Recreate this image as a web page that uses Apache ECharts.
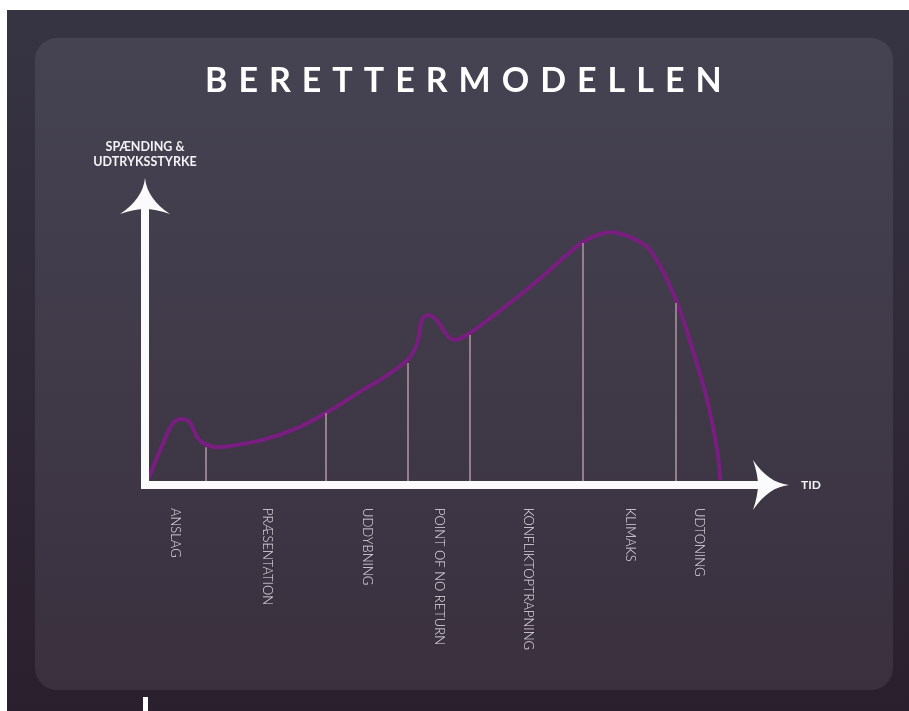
<!DOCTYPE html>
<html><head><meta charset="utf-8">
<script src="https://cdn.jsdelivr.net/npm/echarts@6/dist/echarts.min.js"></script>
<style>html,body{margin:0;padding:0;background:#fff}#c{width:909px;height:711px}</style>
</head><body><div id="c"></div>
<script>
// ---- data ----
const titleText = 'BERETTERMODELLEN';
const yAxisName = 'SPÆNDING &\nUDTRYKSSTYRKE';
const xAxisName = 'TID';
// Tension curve (time 0-100, tension 0-100)
const curveX = [0.3, 1.1, 2.9, 4.5, 5.9, 7.2, 8.3, 9.3, 11.5, 13.6, 18.8, 24.3, 28.9, 34.8, 37.5, 41.9, 43.5, 44.2, 45.2, 46.6, 48.2, 49.5, 51.9, 56.2, 61.5, 64.7, 70.0, 74.3, 77.5, 80.7, 84.8, 87.5, 89.8, 91.4, 91.9];
const curveY = [1.0, 5.2, 14.5, 21.5, 22.8, 21.5, 16.6, 14.5, 13.1, 13.5, 15.6, 19.7, 24.9, 32.9, 36.3, 43.3, 49.1, 57.1, 58.8, 57.1, 51.9, 50.2, 52.6, 59.5, 68.5, 74.4, 84.1, 87.5, 85.8, 81.3, 64.0, 46.7, 29.4, 12.1, 1.7];
// Phase boundaries
const boundaryX = [9.7, 28.9, 41.9, 51.9, 70.0, 84.8];
const boundaryY = [13.1, 24.9, 42.2, 51.9, 83.7, 63.0];
// Phase names and their label positions (segment middles)
const phaseNames = ['ANSLAG', 'PRÆSENTATION', 'UDDYBNING', 'POINT OF NO RETURN', 'KONFLIKTOPTRAPNING', 'KLIMAKS', 'UDTONING'];
const phaseLabelX = [4.8, 19.5, 35.5, 47.0, 61.2, 77.5, 88.5];

// ---- chart ----
const chart = echarts.init(document.getElementById('c'), null, {renderer: 'canvas'});
const arrowPath = 'path://M50,0 C53,28 70,52 100,72 Q70,62 50,62 Q30,62 0,72 C30,52 47,28 50,0 Z';
const axisWhite = '#fbfafc';

chart.setOption({
  backgroundColor: '#ffffff',
  animation: false,
  title: {
    text: titleText.split('').join('{g| }'),
    left: 205,
    top: 64,
    padding: 0,
    textStyle: {
      color: '#ffffff', fontSize: 34, fontWeight: 'bold', fontFamily: 'Lato',
      rich: {g: {width: 11, fontSize: 34, fontFamily: 'Lato'}}
    }
  },
  graphic: [
    {type: 'rect', z: -20, silent: true, shape: {x: 7, y: 10, width: 902, height: 701},
      style: {fill: new echarts.graphic.LinearGradient(0, 0, 0, 1, [{offset: 0, color: '#363443'}, {offset: 1, color: '#2a1f2d'}])}},
    {type: 'rect', z: -19, silent: true, shape: {x: 35, y: 38, width: 858, height: 652, r: 22},
      style: {fill: new echarts.graphic.LinearGradient(0, 0, 0, 1, [{offset: 0, color: '#454352'}, {offset: 1, color: '#3a303e'}])}},
    {type: 'rect', z: -18, silent: true, shape: {x: 143, y: 697, width: 5, height: 14}, style: {fill: '#ffffff'}}
  ],
  grid: {left: 145, right: 138, top: 196, bottom: 226, containLabel: false},
  xAxis: {
    type: 'value', min: 0, max: 100, z: 5,
    name: xAxisName, nameLocation: 'end', nameGap: 30,
    nameTextStyle: {color: '#f4f2f6', fontSize: 12, fontWeight: 'bold', fontFamily: 'Lato', verticalAlign: 'middle'},
    axisLine: {show: true, symbol: ['none', arrowPath], symbolSize: [50, 37],
      lineStyle: {color: axisWhite, width: 8, cap: 'square'}},
    axisTick: {show: false},
    splitLine: {show: false},
    axisLabel: {
      customValues: phaseLabelX,
      formatter: v => phaseNames[phaseLabelX.indexOf(v)] || '',
      rotate: -90, margin: 23, color: '#e2dee6', fontSize: 13, fontFamily: 'Lato', fontWeight: 300
    }
  },
  yAxis: {
    type: 'value', min: 0, max: 100, z: 5,
    name: yAxisName, nameLocation: 'end', nameGap: 27,
    nameTextStyle: {color: '#f4f2f6', fontSize: 12.5, fontWeight: 'bold', fontFamily: 'Lato', lineHeight: 15, align: 'center'},
    axisLine: {show: true, symbol: ['none', arrowPath], symbolSize: [50, 37],
      lineStyle: {color: axisWhite, width: 8, cap: 'square'}},
    axisTick: {show: false},
    splitLine: {show: false},
    axisLabel: {show: false}
  },
  series: [
    {
      type: 'line', name: 'faser', data: [], z: 1, silent: true,
      markLine: {
        silent: true, symbol: 'none', label: {show: false},
        lineStyle: {color: '#94808b', width: 2, type: 'solid'},
        data: boundaryX.map((x, i) => [{coord: [x, 0]}, {coord: [x, boundaryY[i]]}])
      }
    },
    {
      type: 'line', name: 'spænding', z: 3, silent: true,
      data: curveX.map((x, i) => [x, curveY[i]]),
      smooth: 0.35, showSymbol: false,
      lineStyle: {color: '#7a1d80', width: 4}
    }
  ]
});
</script></body></html>
